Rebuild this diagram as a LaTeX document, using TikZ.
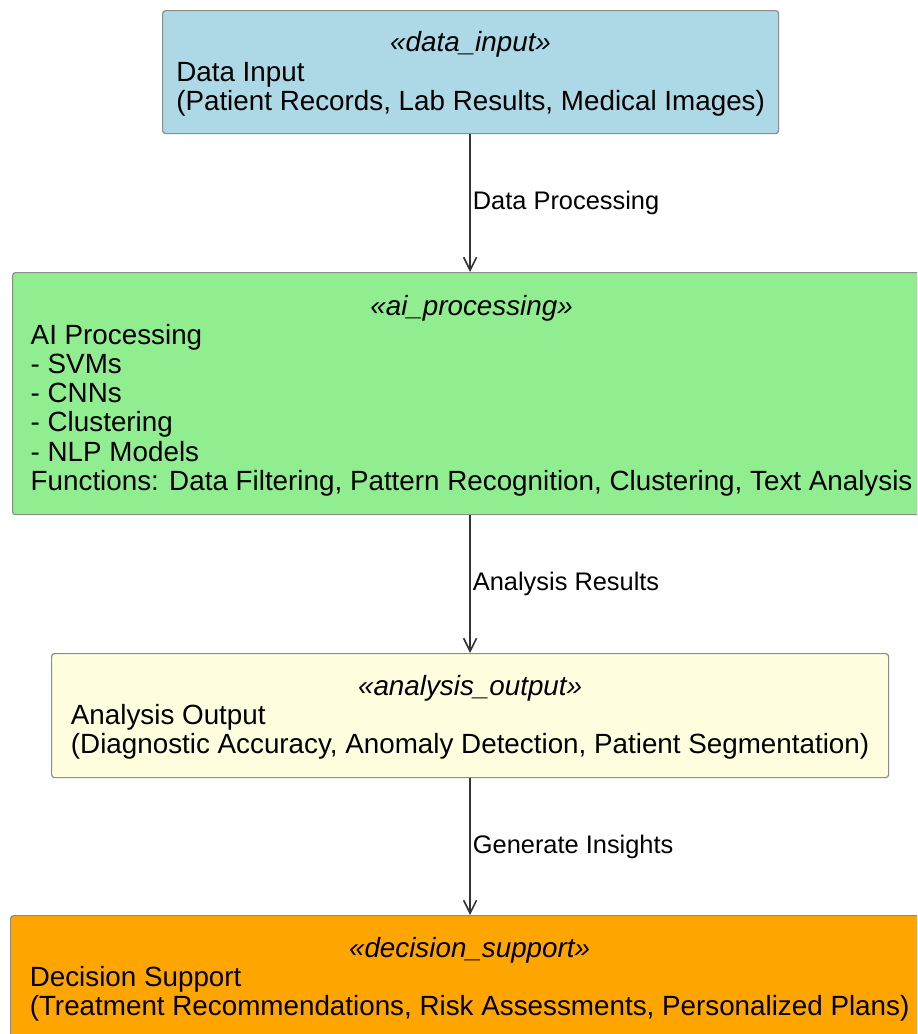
\documentclass[tikz,border=0pt]{standalone}
\usepackage{fontspec}
\setmainfont{Liberation Sans}
\usetikzlibrary{arrows.meta}
\definecolor{inputbox}{HTML}{ADD8E6}
\definecolor{aibox}{HTML}{90EE90}
\definecolor{outputbox}{HTML}{FFFFE0}
\definecolor{supportbox}{HTML}{FFA500}
\definecolor{boxline}{HTML}{8C8C8C}
\definecolor{flowline}{HTML}{333333}

\begin{document}
\begin{tikzpicture}[x=0.5pt, y=-0.5pt,
  every node/.style={font=\fontsize{13.9}{14.6}\selectfont},
  stage/.style={draw=boxline, line width=0.6pt, rounded corners=1.5pt,
    inner sep=1pt, anchor=north west},
  flow/.style={-{Straight Barb[length=6.5pt, width=6.5pt]}, line width=0.8pt, flowline},
  lbl/.style={font=\fontsize{12.7}{14}\selectfont, text=black, anchor=west,
    inner sep=0pt, xshift=1pt}
]
\clip (0,0) rectangle (917,1034);
\node[stage, fill=inputbox, minimum width=308pt, minimum height=61.5pt] (DataInput) at (162,10)
  {\raisebox{-1.6pt}[\height][\depth]{\begin{tabular}{@{}l@{}}\multicolumn{1}{@{}c@{}}{\itshape «data\_input»}\\
   Data Input\\(Patient Records, Lab Results, Medical Images)\end{tabular}}};
\node[stage, fill=aibox, minimum width=459pt, minimum height=121pt] (AIProcessing) at (12,272)
  {\raisebox{-1.6pt}[\height][\depth]{\begin{tabular}{@{}l@{}}\multicolumn{1}{@{}c@{}}{\itshape «ai\_processing»}\\
   AI Processing\\- SVMs\\- CNNs\\- Clustering\\- NLP Models\\
   Functions: Data Filtering, Pattern Recognition, Clustering, Text Analysis\end{tabular}}};
\node[stage, fill=outputbox, minimum width=418.5pt, minimum height=62pt] (AnalysisOutput) at (51,653)
  {\raisebox{-1.6pt}[\height][\depth]{\begin{tabular}{@{}l@{}}\multicolumn{1}{@{}c@{}}{\itshape «analysis\_output»}\\
   Analysis Output\\(Diagnostic Accuracy, Anomaly Detection, Patient Segmentation)\end{tabular}}};
\node[stage, fill=supportbox, minimum width=459pt, minimum height=62pt] (DecisionSupport) at (10,915)
  {\raisebox{-1.6pt}[\height][\depth]{\begin{tabular}{@{}l@{}}\multicolumn{1}{@{}c@{}}{\itshape «decision\_support»}\\
   Decision Support\\(Treatment Recommendations, Risk Assessments, Personalized Plans)\end{tabular}}};
\draw[flow] (AnalysisOutput.north |- DataInput.south) -- node[lbl] {Data Processing} (AnalysisOutput.north |- AIProcessing.north);
\draw[flow] (AnalysisOutput.north |- AIProcessing.south) -- node[lbl] {Analysis Results} (AnalysisOutput.north);
\draw[flow] (AnalysisOutput.south) -- node[lbl] {Generate Insights} (AnalysisOutput.south |- DecisionSupport.north);
\end{tikzpicture}
\end{document}
